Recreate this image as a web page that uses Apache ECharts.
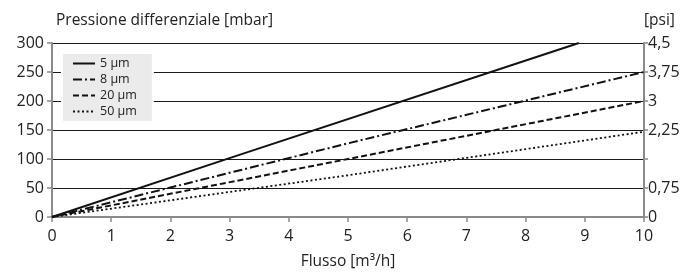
<!DOCTYPE html>
<html>
<head>
    <meta charset="utf-8">
    <title>Pressione differenziale</title>
    <style>
        body { margin: 0; padding: 0; background: #fff; }
        #chart { width: 696px; height: 275px; }
    </style>
</head>
<body>
    <div id="chart"></div>
    <script src="https://cdn.jsdelivr.net/npm/echarts@6/dist/echarts.min.js"></script>
    <script>
        // dati: flusso [m3/h], pressione [mbar]
        var seriesNames = ['5 µm', '8 µm', '20 µm', '50 µm'];
        var data5 = [[0, 0], [3.1, 105], [8.9, 300]];
        var data8 = [[0, 0], [5, 127], [10, 250]];
        var data20 = [[0, 0], [5, 100], [10, 200]];
        var data50 = [[0, 0], [5, 72], [10, 147]];
        var psiHidden = ['1.5'];

        var font = 'Open Sans';
        var axisGray = '#8a8a8a';
        var textColor = '#222';

        var chart = echarts.init(document.getElementById('chart'));

        function lineSeries(name, data, type, width) {
            return {
                name: name,
                type: 'line',
                data: data,
                showSymbol: false,
                symbol: 'none',
                itemStyle: { color: '#111' },
                lineStyle: { color: '#111', width: width, type: type }
            };
        }

        var option = {
            animation: false,
            textStyle: { fontFamily: font, color: textColor },
            grid: { left: 52, right: 52, top: 43, bottom: 55 },
            legend: {
                orient: 'vertical',
                left: 62,
                top: 53,
                data: seriesNames,
                backgroundColor: '#ebebeb',
                borderColor: '#fff',
                borderWidth: 2,
                padding: [4, 16, 4, 10],
                itemWidth: 22,
                itemHeight: 10,
                itemGap: 3,
                itemStyle: { color: 'transparent', borderColor: 'transparent', borderWidth: 0 },
                textStyle: { fontFamily: font, fontSize: 12.5, color: textColor }
            },
            xAxis: {
                type: 'value',
                min: 0,
                max: 10,
                interval: 1,
                name: 'Flusso [m³/h]',
                nameLocation: 'middle',
                nameGap: 37,
                nameTextStyle: { fontSize: 15.5, color: textColor },
                axisLine: { lineStyle: { color: axisGray, width: 2 } },
                axisTick: { show: true, length: 5, lineStyle: { color: axisGray, width: 1.5 } },
                axisLabel: { fontSize: 16, color: textColor, margin: 11 },
                splitLine: { show: false }
            },
            yAxis: [{
                type: 'value',
                min: 0,
                max: 300,
                interval: 50,
                name: 'Pressione differenziale [mbar]',
                nameLocation: 'end',
                nameGap: 14,
                nameTextStyle: { fontSize: 15.5, color: textColor, align: 'left', padding: [0, 0, 0, 4] },
                axisLine: { show: true, lineStyle: { color: axisGray, width: 2 } },
                axisTick: { show: true, length: 5, lineStyle: { color: axisGray, width: 1.5 } },
                axisLabel: { fontSize: 16, color: textColor, margin: 8 },
                splitLine: { show: true, lineStyle: { color: '#1a1a1a', width: 1 } }
            }, {
                type: 'value',
                min: 0,
                max: 4.5,
                interval: 0.75,
                position: 'right',
                name: '[psi]',
                nameLocation: 'end',
                nameGap: 14,
                nameTextStyle: { fontSize: 15.5, color: textColor, align: 'left' },
                axisLine: { show: true, lineStyle: { color: axisGray, width: 2 } },
                axisTick: { show: true, length: 4, lineStyle: { color: axisGray, width: 1.5 } },
                axisLabel: {
                    fontSize: 16,
                    color: textColor,
                    margin: 4,
                    formatter: function (v) {
                        var s = String(v);
                        if (psiHidden.indexOf(s) >= 0) return '';
                        return s.replace('.', ',');
                    }
                },
                splitLine: { show: false }
            }],
            series: [
                lineSeries(seriesNames[0], data5, 'solid', 2),
                lineSeries(seriesNames[1], data8, [9, 3, 2, 3], 2),
                lineSeries(seriesNames[2], data20, [6, 3], 2),
                lineSeries(seriesNames[3], data50, [2, 2.5], 1.8)
            ]
        };

        chart.setOption(option);
    </script>
</body>
</html>
